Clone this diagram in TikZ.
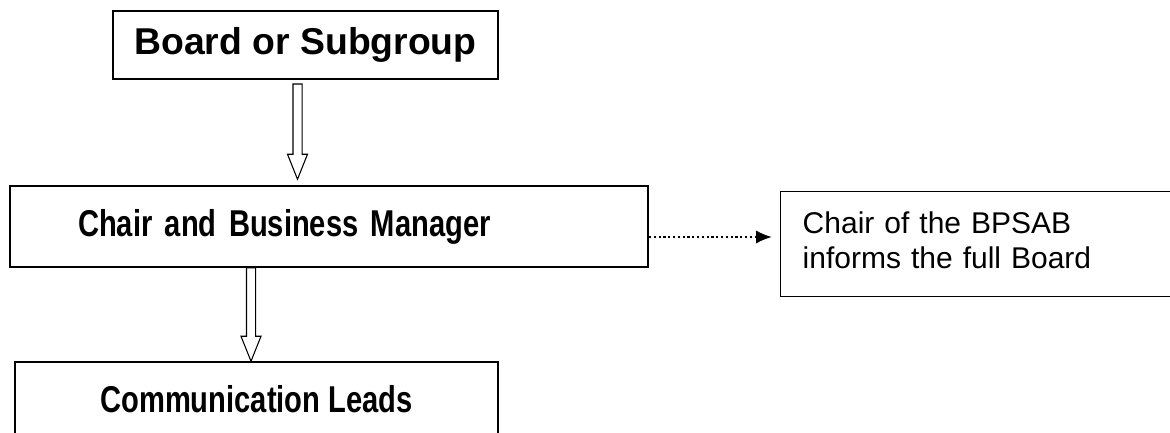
\documentclass[tikz,border=0pt]{standalone}
\usepackage{fontspec}
\setmainfont{Liberation Sans}
\newfontfamily\narrowsans[FakeStretch=0.78]{Liberation Sans}
\usetikzlibrary{positioning,calc,arrows.meta}

% hollow block arrow pointing down, from #1 to tip #2
\newcommand{\hollowarrow}[2]{%
	\draw[line width=0.8pt, fill=white] let \p1=(#1), \p2=(#2) in
	(\x1-3.4pt,\y1) -- (\x1-3.4pt,\y2+18.75pt) -- (\x1-7.5pt,\y2+18.75pt) -- (\x2,\y2)
	-- (\x1+7.5pt,\y2+18.75pt) -- (\x1+3.4pt,\y2+18.75pt) -- (\x1+3.4pt,\y1) -- cycle;}

\begin{document}
\begin{tikzpicture}[
		x=0.75pt, y=-0.75pt,
		bigbox/.style={draw, rectangle, line width=1.1pt, inner sep=0pt, font=\fontsize{28}{34}\selectfont\bfseries},
		narrowbox/.style={bigbox, font=\fontsize{28}{34}\selectfont\narrowsans\bfseries},
		notebox/.style={draw, rectangle, line width=1.1pt, anchor=north west, inner ysep=0pt, font=\fontsize{22.5}{26.25}\selectfont},
		>=LaTeX
		]
		\useasboundingbox (0,0) rectangle (1170,432);
		\clip (0,0) rectangle (1170,432);
		
		\node[bigbox, minimum width=288.75pt, minimum height=51pt] (board) at (305.5,45) {Board or Subgroup};
		\node[narrowbox, minimum height=60.75pt, inner xsep=51pt, text width=376.5pt, align=left] (chair) at (329,226.5) {Chair and Business Manager};
		\node[narrowbox, minimum width=362.25pt, minimum height=56.25pt] (comms) at (256.5,399.5) {Communication Leads};
		\node[notebox, minimum height=78.75pt, inner xsep=16.5pt, text width=282pt] (inform) at (780,191)
			{\begin{tabular}{@{}l@{}}Chair of the BPSAB\\informs the full Board\end{tabular}};
		
		\coordinate (a1) at (297.5,84);
		\coordinate (a2) at (251,0);
		\hollowarrow{a1}{$(chair.north -| a1)+(0,-6)$}
		\hollowarrow{chair.south -| a2}{comms.north -| a2}
		
		\coordinate (d0) at (649,237);
		\draw[dotted, line width=1.6pt, -{Latex[length=12pt,width=10pt]}, shorten >=6pt] (d0) -- (d0 -| inform.west);
\end{tikzpicture}
\end{document}
